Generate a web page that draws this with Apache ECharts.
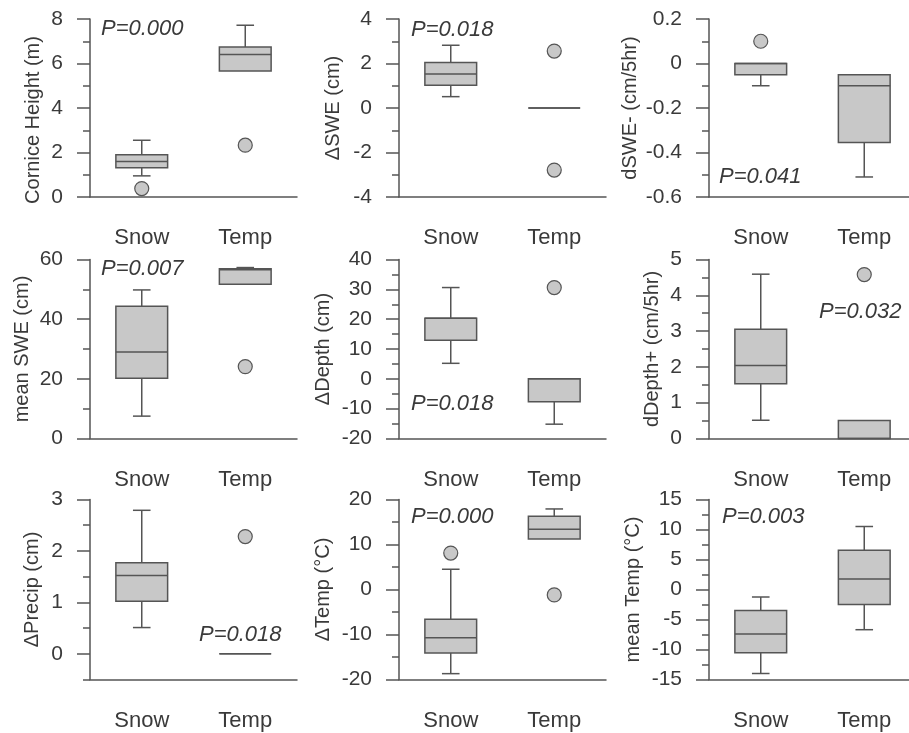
<!DOCTYPE html>
<html>
<head>
<meta charset="utf-8">
<script src="https://cdn.jsdelivr.net/npm/echarts@6/dist/echarts.min.js"></script>
<style>
html, body {margin: 0; padding: 0; background: #fff;}
#chart {width: 909px; height: 733px;}
</style>
</head>
<body>
<div id="chart"></div>
<script>
// categories on every x axis
var categories = ['Snow', 'Temp'];

// box values per group: [low whisker, Q1, median, Q3, high whisker]
var corniceBoxes = [[0.95, 1.32, 1.6, 1.9, 2.55], [5.66, 5.66, 6.41, 6.74, 7.72]];
var corniceOutliers = [[0, 0.38], [1, 2.33]];
var corniceTicks = [0, 2, 4, 6, 8];
var corniceMinor = [1, 3, 5, 7];

var dSweBoxes = [[0.51, 1.02, 1.53, 2.05, 2.82], [0, 0, 0, 0, 0]];
var dSweOutliers = [[1, 2.56], [1, -2.79]];
var dSweTicks = [-4, -2, 0, 2, 4];
var dSweMinor = [-3, -1, 1, 3];

var sweRateBoxes = [[-0.1, -0.05, 0, 0, 0], [-0.51, -0.355, -0.1, -0.05, -0.05]];
var sweRateOutliers = [[0, 0.1]];
var sweRateTicks = [-0.6, -0.4, -0.2, 0, 0.2];
var sweRateMinor = [-0.5, -0.3, -0.1, 0.1];

var meanSweBoxes = [[7.5, 20.2, 29, 44.3, 49.8], [51.7, 51.7, 56.6, 56.9, 57.3]];
var meanSweOutliers = [[1, 24.1]];
var meanSweTicks = [0, 20, 40, 60];
var meanSweMinor = [10, 30, 50];

var dDepthBoxes = [[5.2, 12.9, 20.3, 20.3, 30.6], [-15.2, -7.7, 0, 0, 0]];
var dDepthOutliers = [[1, 30.6]];
var dDepthTicks = [-20, -10, 0, 10, 20, 30, 40];
var dDepthMinor = [-15, -5, 5, 15, 25, 35];

var depthRateBoxes = [[0.51, 1.53, 2.04, 3.05, 4.59], [0, 0, 0, 0.5, 0.5]];
var depthRateOutliers = [[1, 4.58]];
var depthRateTicks = [0, 1, 2, 3, 4, 5];
var depthRateMinor = [0.5, 1.5, 2.5, 3.5, 4.5];

var precipBoxes = [[0.51, 1.02, 1.52, 1.77, 2.79], [0, 0, 0, 0, 0]];
var precipOutliers = [[1, 2.28]];
var precipTicks = [0, 1, 2, 3];
var precipMinor = [-0.5, 0.5, 1.5, 2.5];

var dTempBoxes = [[-18.7, -14.1, -10.7, -6.6, 4.5], [11.2, 11.2, 13.4, 16.3, 17.9]];
var dTempOutliers = [[0, 8.1], [1, -1.2]];
var dTempTicks = [-20, -10, 0, 10, 20];
var dTempMinor = [-15, -5, 5, 15];

var meanTempBoxes = [[-14, -10.56, -7.4, -3.5, -1.25], [-6.7, -2.5, 1.75, 6.55, 10.5]];
var meanTempOutliers = [];
var meanTempTicks = [-15, -10, -5, 0, 5, 10, 15];
var meanTempMinor = [-12.5, -7.5, -2.5, 2.5, 7.5, 12.5];

var pLabels = ['P=0.000', 'P=0.018', 'P=0.041', 'P=0.007', 'P=0.018', 'P=0.032', 'P=0.018', 'P=0.000', 'P=0.003'];

var FONT = '"Liberation Sans", Arial, Helvetica, sans-serif';
var INK = '#3a3a3a';
var LINE = '#555555';
var FILL = '#c8c8c8';

var panels = [
    {name: 'Cornice Height (m)', boxes: corniceBoxes, out: corniceOutliers, ticks: corniceTicks, minor: corniceMinor, gap: 47, pad: [0, 24, 0, 0], p: [101, 29]},
    {name: 'ΔSWE (cm)', boxes: dSweBoxes, out: dSweOutliers, ticks: dSweTicks, minor: dSweMinor, gap: 56, p: [411, 30]},
    {name: 'dSWE- (cm/5hr)', boxes: sweRateBoxes, out: sweRateOutliers, ticks: sweRateTicks, minor: sweRateMinor, gap: 69, p: [719, 177]},
    {name: 'mean SWE (cm)', boxes: meanSweBoxes, out: meanSweOutliers, ticks: meanSweTicks, minor: meanSweMinor, gap: 58, p: [101, 269]},
    {name: 'ΔDepth (cm)', boxes: dDepthBoxes, out: dDepthOutliers, ticks: dDepthTicks, minor: dDepthMinor, gap: 66, p: [411, 404]},
    {name: 'dDepth+ (cm/5hr)', boxes: depthRateBoxes, out: depthRateOutliers, ticks: depthRateTicks, minor: depthRateMinor, gap: 47, p: [819, 312]},
    {name: 'ΔPrecip (cm)', boxes: precipBoxes, out: precipOutliers, ticks: precipTicks, minor: precipMinor, gap: 48, p: [199, 635]},
    {name: 'ΔTemp (°C)', boxes: dTempBoxes, out: dTempOutliers, ticks: dTempTicks, minor: dTempMinor, gap: 66, p: [411, 517]},
    {name: 'mean Temp (°C)', boxes: meanTempBoxes, out: meanTempOutliers, ticks: meanTempTicks, minor: meanTempMinor, gap: 66, p: [722, 517]}
];

var colLeft = [90, 399, 709];
var rowTop = [19, 259.5, 499.5];
var rowHeight = [178, 179, 180];

// box + whiskers drawn with the axes' coord system
function renderBox(params, api) {
    var x = api.value(0);
    var lo = api.coord([x, api.value(1)]);
    var q1 = api.coord([x, api.value(2)]);
    var med = api.coord([x, api.value(3)]);
    var q3 = api.coord([x, api.value(4)]);
    var hi = api.coord([x, api.value(5)]);
    var band = api.size([1, 0])[0];
    var bw = band * 0.5;
    var cw = band * 0.17;
    var cx = q1[0];
    var stroke = {stroke: LINE, lineWidth: 1.5};
    var kids = [];

    if (hi[1] < q3[1] - 0.5) {
        kids.push({type: 'line', shape: {x1: cx, y1: q3[1], x2: cx, y2: hi[1]}, style: stroke});
        kids.push({type: 'line', shape: {x1: cx - cw / 2, y1: hi[1], x2: cx + cw / 2, y2: hi[1]}, style: stroke});
    }
    if (lo[1] > q1[1] + 0.5) {
        kids.push({type: 'line', shape: {x1: cx, y1: q1[1], x2: cx, y2: lo[1]}, style: stroke});
        kids.push({type: 'line', shape: {x1: cx - cw / 2, y1: lo[1], x2: cx + cw / 2, y2: lo[1]}, style: stroke});
    }
    kids.push({
        type: 'rect',
        shape: {x: cx - bw / 2, y: q3[1], width: bw, height: q1[1] - q3[1]},
        style: {fill: FILL, stroke: LINE, lineWidth: 1.5}
    });
    kids.push({type: 'line', shape: {x1: cx - bw / 2, y1: med[1], x2: cx + bw / 2, y2: med[1]}, style: stroke});
    return {type: 'group', children: kids};
}

var grids = [], xAxes = [], yAxes = [], series = [], texts = [];

panels.forEach(function (pn, i) {
    var col = i % 3, row = Math.floor(i / 3);
    var all = pn.ticks.concat(pn.minor);
    var yMin = Math.min.apply(null, all);
    var yMax = Math.max.apply(null, all);

    grids.push({left: colLeft[col], top: rowTop[row], width: 207, height: rowHeight[row], outerBoundsMode: 'none'});

    xAxes.push({
        gridIndex: i,
        type: 'category',
        data: categories,
        axisLine: {onZero: false, lineStyle: {color: LINE, width: 1.5}},
        axisTick: {alignWithLabel: true, length: 14, lineStyle: {color: LINE, width: 1.5}},
        axisLabel: {interval: 0, margin: 30, fontSize: 22, color: INK, fontFamily: FONT},
        splitLine: {show: false}
    });

    // major ticks with labels
    yAxes.push({
        gridIndex: i,
        type: 'value',
        position: 'left',
        min: yMin,
        max: yMax,
        name: pn.name,
        nameLocation: 'middle',
        nameGap: pn.gap,
        nameMoveOverlap: false,
        nameTextStyle: {fontSize: 20, color: INK, fontFamily: FONT, padding: pn.pad || 0},
        axisLine: {show: true, onZero: false, lineStyle: {color: LINE, width: 1.5}},
        axisTick: {show: true, length: 13, customValues: pn.ticks, lineStyle: {color: LINE, width: 1.5}},
        axisLabel: {customValues: pn.ticks, margin: 27, fontSize: 21, color: INK, fontFamily: FONT},
        splitLine: {show: false}
    });
    // minor ticks
    yAxes.push({
        gridIndex: i,
        type: 'value',
        position: 'left',
        min: yMin,
        max: yMax,
        axisLine: {show: false, onZero: false},
        axisTick: {show: true, length: 7, customValues: pn.minor, lineStyle: {color: LINE, width: 1.5}},
        axisLabel: {show: false},
        splitLine: {show: false}
    });

    series.push({
        type: 'custom',
        xAxisIndex: i,
        yAxisIndex: 2 * i,
        renderItem: renderBox,
        encode: {x: 0, y: [1, 2, 3, 4, 5]},
        data: pn.boxes.map(function (b, k) { return [k].concat(b); }),
        z: 2
    });
    series.push({
        type: 'scatter',
        xAxisIndex: i,
        yAxisIndex: 2 * i,
        symbol: 'circle',
        symbolSize: 14,
        itemStyle: {color: FILL, borderColor: LINE, borderWidth: 1.2, opacity: 1},
        data: pn.out,
        z: 3
    });

    texts.push({
        type: 'text',
        x: pn.p[0],
        y: pn.p[1],
        style: {
            text: pLabels[i],
            fontSize: 22,
            fontStyle: 'italic',
            fontFamily: FONT,
            fill: INK,
            textAlign: 'left',
            textVerticalAlign: 'middle'
        }
    });
});

var chart = echarts.init(document.getElementById('chart'));
chart.setOption({
    animation: false,
    backgroundColor: '#ffffff',
    textStyle: {fontFamily: FONT},
    grid: grids,
    xAxis: xAxes,
    yAxis: yAxes,
    series: series,
    graphic: texts
});
</script>
</body>
</html>
